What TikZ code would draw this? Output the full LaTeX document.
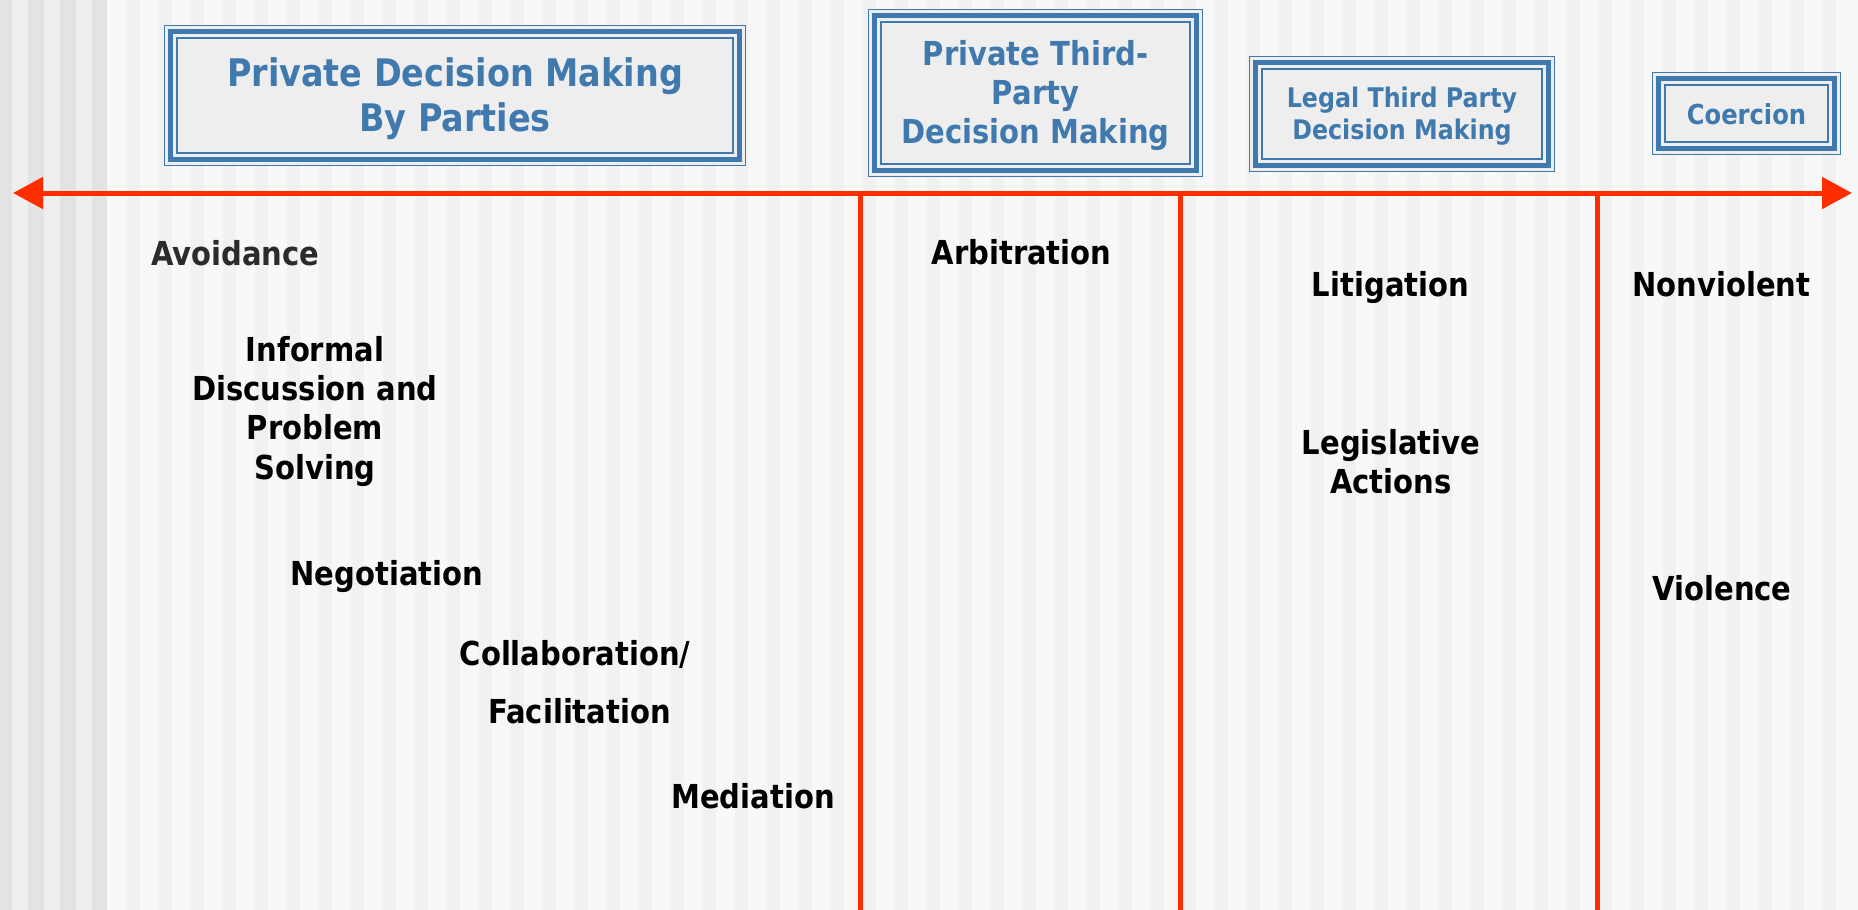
\documentclass[tikz,border=0pt]{standalone}
\usepackage{fontspec}
\usetikzlibrary{arrows.meta}
\newfontfamily\labelfont[FakeStretch=0.88]{DejaVu Sans}
\definecolor{frameblue}{HTML}{4079AE}
\definecolor{axisred}{HTML}{FF2D00}
\definecolor{bandgray}{HTML}{E3E3E3}
\definecolor{bandlight}{HTML}{EFEFEF}
\definecolor{pagebg}{HTML}{F8F8F8}
\definecolor{pagestripe}{HTML}{F1F1F1}
\definecolor{boxfill}{HTML}{EEEEEE}
\definecolor{softblack}{HTML}{2B2B2B}

\tikzset{
  catbox/.style 2 args={fill=boxfill, inner sep=0pt, align=center, text=frameblue,
    font=\labelfont\bfseries\fontsize{#1}{#2}\selectfont},
  item/.style={inner sep=0pt, align=center, anchor=base,
    font=\labelfont\bfseries\fontsize{33}{39.3}\selectfont},
  axis/.style={draw=axisred, line width=5pt},
  axistip/.tip={Triangle[length=30pt,width=31pt]},
}

% three nested blue outlines inside a category box
\newcommand\tripleframe[1]{%
  \draw[frameblue, line width=1.4pt]
    ([shift={(0.7,0.7)}]#1.north west) rectangle ([shift={(-0.7,-0.7)}]#1.south east);
  \draw[frameblue, line width=5.6pt]
    ([shift={(6.8,6.8)}]#1.north west) rectangle ([shift={(-6.8,-6.8)}]#1.south east);
  \draw[frameblue, line width=2.3pt]
    ([shift={(13.5,13.5)}]#1.north west) rectangle ([shift={(-13.5,-13.5)}]#1.south east);
}
% invisible strut that lowers a box caption a little
\newcommand\capstrut[1]{\rule{0pt}{#1}}

\begin{document}
\begin{tikzpicture}[x=1pt,y=-1pt]
\useasboundingbox (0,0) rectangle (1858,910);

% background: faint vertical stripes, darker striped band on the left
\fill[pagebg] (0,0) rectangle (1858,910);
\foreach \s in {127,159,...,1850} \fill[pagestripe] (\s,0) rectangle ++(13,910);
\fill[bandgray] (0,0) rectangle (107,910);
\foreach \s in {12,44,76} \fill[bandlight] (\s,0) rectangle ++(16,910);

% category boxes
\node[catbox={38}{44.5}, minimum width=582pt, minimum height=141pt] (pdm) at (455,95.5)
  {\capstrut{35pt}Private Decision Making\\By Parties};
\node[catbox={33}{39}, minimum width=335pt, minimum height=168pt] (ptp) at (1035.5,93)
  {\capstrut{31pt}Private Third-\\Party\\Decision Making};
\node[catbox={27}{32}, minimum width=306pt, minimum height=116pt] (ltp) at (1402,114)
  {\capstrut{25.5pt}Legal Third Party\\Decision Making};
\node[catbox={27.5}{32}, minimum width=189pt, minimum height=83pt] (coe) at (1746.5,113.5)
  {\capstrut{23pt}Coercion};
\tripleframe{pdm}
\tripleframe{ptp}
\tripleframe{ltp}
\tripleframe{coe}

% axis and dividers
\coordinate (west) at (13,193);
\coordinate (east) at (1852,193);
\coordinate (d1top) at (860,193);  \coordinate (d1bot) at (860,910);
\coordinate (d2top) at (1180,193); \coordinate (d2bot) at (1180,910);
\coordinate (d3top) at (1597,193); \coordinate (d3bot) at (1597,910);
\draw[axis] (d1top) -- (d1bot);
\draw[axis] (d2top) -- (d2bot);
\draw[axis] (d3top) -- (d3bot);
\draw[axis, axistip-axistip] (west) -- (east);

% methods (multi-line nodes sit on the baseline of their last line)
\node[item, text=softblack] (avoid) at (235.4,265) {Avoidance};
\node[item] (informal) at (315,479) {Informal\\Discussion and\\Problem\\Solving};
\node[item] (nego) at (387,585) {Negotiation};
\node[item] (collab) at (575,665) {Collaboration/};
\node[item] (facil) at (579.5,723) {Facilitation};
\node[item] (media) at (753,808) {Mediation};
\node[item] (arbit) at (1021.5,264) {Arbitration};
\node[item] (litig) at (1390.5,296) {Litigation};
\node[item] (legis) at (1391,493.5) {Legislative\\Actions};
\node[item] (nonviol) at (1721.5,296) {Nonviolent};
\node[item] (viol) at (1722,600.5) {Violence};
\end{tikzpicture}
\end{document}
